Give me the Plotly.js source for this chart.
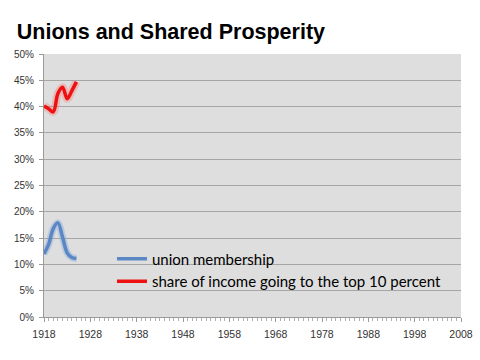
<!DOCTYPE html>
<html><head><meta charset="utf-8">
<script src="https://cdn.plot.ly/plotly-3.0.1.min.js"></script>
<style>html,body{margin:0;padding:0;background:#fff}#chart{width:480px;height:360px}</style>
</head><body><div id="chart"></div>
<script>
const years = [1918, 1919, 1920, 1921, 1922, 1923, 1924, 1925];
const unionMembership = [0.120, 0.138, 0.168, 0.179, 0.152, 0.122, 0.113, 0.111];
const topTenShare = [0.401, 0.396, 0.390, 0.425, 0.437, 0.415, 0.430, 0.447];
const xTicks = [1918, 1928, 1938, 1948, 1958, 1968, 1978, 1988, 1998, 2008];
const seriesNames = ['union membership', 'share of income going to the top 10 percent'];

const traces = [
  {x: years, y: unionMembership, mode: 'lines', line: {color: 'rgba(120,160,220,0.35)', width: 7, shape: 'spline'}, showlegend: false, hoverinfo: 'skip'},
  {x: years, y: topTenShare, mode: 'lines', line: {color: 'rgba(255,120,120,0.35)', width: 8, shape: 'spline'}, showlegend: false, hoverinfo: 'skip'},
  {x: years, y: unionMembership, mode: 'lines', name: seriesNames[0], line: {color: '#5b87c5', width: 3.5, shape: 'spline'}},
  {x: years, y: topTenShare, mode: 'lines', name: seriesNames[1], line: {color: '#ee1111', width: 3.5, shape: 'spline'}}
];

const layout = {
  width: 480, height: 360,
  margin: {l: 44, r: 19, t: 54, b: 43},
  paper_bgcolor: '#ffffff',
  plot_bgcolor: '#dedede',
  font: {family: 'Liberation Sans, Arial, sans-serif', color: '#333333', size: 10},
  title: {text: '<b>Unions and Shared Prosperity</b>', x: 0.035, xanchor: 'left', y: 0.912, yanchor: 'middle',
          font: {family: 'Liberation Sans, Arial, sans-serif', size: 21.5, color: '#000000'}},
  xaxis: {
    range: [1918, 2008], tickvals: xTicks, ticktext: xTicks.map(String),
    showgrid: false, zeroline: false, showline: true, linecolor: '#9a9a9a', linewidth: 1,
    ticks: 'outside', ticklen: 4, tickcolor: '#9a9a9a', ticklabelstandoff: 3,
    minor: {dtick: 1, ticks: 'outside', ticklen: 3, tickcolor: '#b0b0b0', showgrid: false},
    tickfont: {size: 10.5, color: '#333333'}
  },
  yaxis: {
    range: [0, 0.5], dtick: 0.05, tickformat: '.0%',
    showgrid: true, gridcolor: '#a6a6a6', gridwidth: 1, zeroline: false,
    showline: true, linecolor: '#9a9a9a', linewidth: 1,
    ticks: 'outside', ticklen: 4, tickcolor: '#9a9a9a', ticklabelstandoff: 3,
    tickfont: {size: 10, color: '#333333'}
  },
  legend: {x: 0.163, y: 0.283, xanchor: 'left', yanchor: 'top', bgcolor: 'rgba(0,0,0,0)',
           font: {family: 'Lato, Carlito, sans-serif', size: 15, color: '#000000'}, itemwidth: 30, tracegroupgap: 0},
  showlegend: true
};

Plotly.newPlot('chart', traces, layout, {staticPlot: true, displayModeBar: false});
</script></body></html>
